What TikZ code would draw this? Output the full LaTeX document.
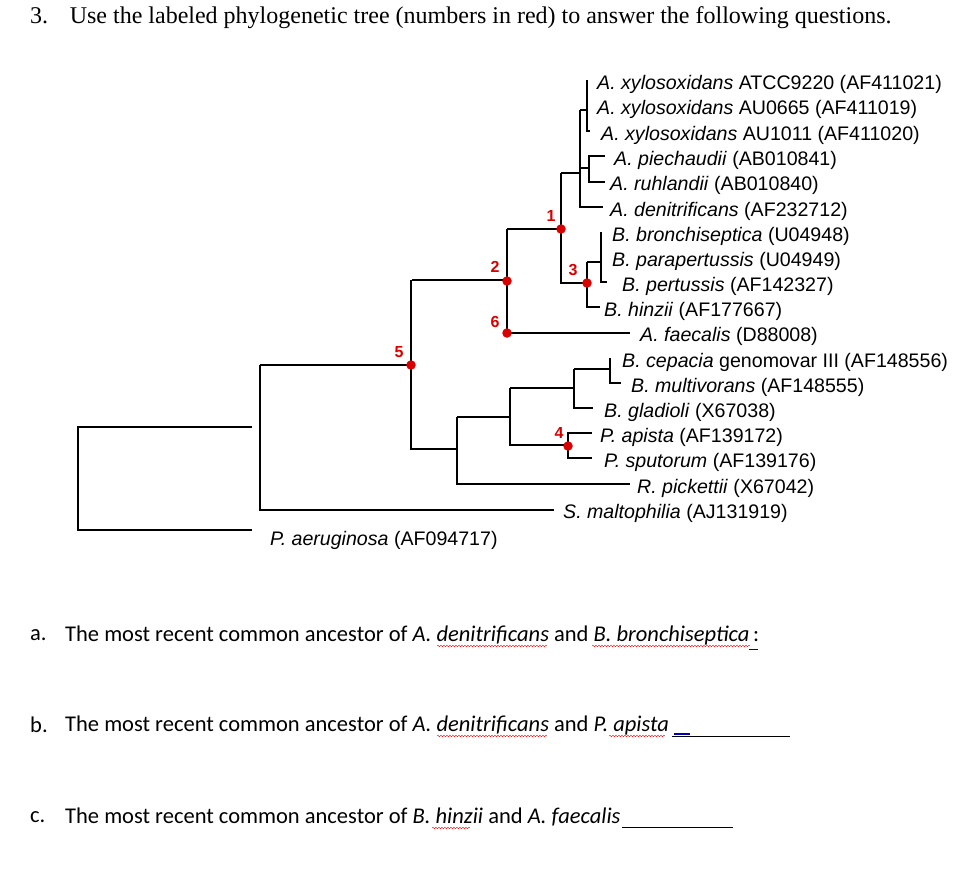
\documentclass[tikz,border=0pt]{standalone}
\usepackage{fontspec}
\setmainfont{Liberation Serif}
\newfontfamily\arial{Liberation Sans}
\newfontfamily\calib{Carlito}
\usetikzlibrary{decorations.pathmorphing}
\begin{document}
\begin{tikzpicture}[x=1pt,y=-1pt,
  br/.style={line width=1.1pt},
  leaf/.style={anchor=west,inner sep=0pt,font=\arial\fontsize{19.6}{22}\selectfont},
  num/.style={text=red!85!black,font=\arial\bfseries\fontsize{16}{18}\selectfont,inner sep=0pt},
  dot/.style={circle,fill=red!85!black,inner sep=0pt,minimum size=9.5pt},
  q/.style={anchor=west,inner sep=0pt,font=\calib\fontsize{22.5}{26}\selectfont},
  wavy/.style={red,decorate,decoration={snake,amplitude=0.8pt,segment length=3pt}}]
\useasboundingbox (0,0) rectangle (980,892);
\node[anchor=west,inner sep=0pt,font=\fontsize{24}{28}\selectfont] (title) at (30,18) {3.\hspace{0.9em}Use the labeled phylogenetic tree (numbers in red) to answer the following questions.};
% leaves
\node[leaf] (l1) at (597,84) {\textit{A. xylosoxidans} ATCC9220 (AF411021)};
\node[leaf] (l2) at (597,109) {\textit{A. xylosoxidans} AU0665 (AF411019)};
\node[leaf] (l3) at (601,135) {\textit{A. xylosoxidans} AU1011 (AF411020)};
\node[leaf] (l4) at (614,160) {\textit{A. piechaudii} (AB010841)};
\node[leaf] (l5) at (610,185) {\textit{A. ruhlandii} (AB010840)};
\node[leaf] (l6) at (610,211) {\textit{A. denitrificans} (AF232712)};
\node[leaf] (l7) at (612,236) {\textit{B. bronchiseptica} (U04948)};
\node[leaf] (l8) at (612,261) {\textit{B. parapertussis} (U04949)};
\node[leaf] (l9) at (622,286) {\textit{B. pertussis} (AF142327)};
\node[leaf] (l10) at (604,311) {\textit{B. hinzii} (AF177667)};
\node[leaf] (l11) at (640,336) {\textit{A. faecalis} (D88008)};
\node[leaf] (l12) at (622,362) {\textit{B. cepacia} genomovar III (AF148556)};
\node[leaf] (l13) at (631,387) {\textit{B. multivorans} (AF148555)};
\node[leaf] (l14) at (604,412) {\textit{B. gladioli} (X67038)};
\node[leaf] (l15) at (600,437) {\textit{P. apista} (AF139172)};
\node[leaf] (l16) at (604,462) {\textit{P. sputorum} (AF139176)};
\node[leaf] (l17) at (637,488) {\textit{R. pickettii} (X67042)};
\node[leaf] (l18) at (563,513) {\textit{S. maltophilia} (AJ131919)};
\node[leaf] (l19) at (270,540) {\textit{P. aeruginosa} (AF094717)};
% branches
\draw[br] (587,80) -- (587,131) -- (590,131);
\draw[br] (580,110) -- (587,110);
\draw[br] (580,110) -- (580,207) -- (603,207);
\draw[line width=2pt] (580,140) -- (580,168);
\draw[br] (605,156) -- (589,156) -- (589,182) -- (605,182);
\draw[br] (580,168) -- (589,168);
\draw[br] (561,173) -- (580,173);
\draw[br] (561,173) -- (561,283) -- (587,283);
\draw[br] (587,262) -- (587,307) -- (600,307);
\draw[br] (587,262) -- (601,262);
\draw[br] (601,232) -- (601,282) -- (607,282);
\draw[br] (507,229) -- (561,229);
\draw[br] (507,229) -- (507,333) -- (630,333);
\draw[br] (412,280) -- (507,280);
\draw[br] (260,365) -- (411,365);
\draw[br] (411,280) -- (411,449) -- (457,449);
\draw[br] (457,417) -- (457,484) -- (630,484);
\draw[br] (457,417) -- (510,417);
\draw[br] (510,388) -- (510,445) -- (568,445);
\draw[br] (592,433) -- (568,433) -- (568,458) -- (592,458);
\draw[br] (510,388) -- (574,388);
\draw[br] (574,369) -- (574,408) -- (593,408);
\draw[br] (574,369) -- (610,369);
\draw[br] (610,358) -- (610,383) -- (621,383);
\draw[br] (260,365) -- (260,510) -- (554,510);
\draw[br] (252,427) -- (78,427) -- (78,530) -- (252,530);
% numbered nodes
\node[dot] (n1) at (561,229) {}; \node[num] (t1) at (551,216) {1};
\node[dot] (n2) at (507,281) {}; \node[num] (t2) at (495,267) {2};
\node[dot] (n3) at (587,283) {}; \node[num] (t3) at (573,270) {3};
\node[dot] (n6) at (507,333) {}; \node[num] (t6) at (495,322) {6};
\node[dot] (n5) at (411,365) {}; \node[num] (t5) at (399,352) {5};
\node[dot] (n4) at (568,446) {}; \node[num] (t4) at (559,433) {4};
% questions
\node[q] (qa0) at (30,635) {a.};
\node[q] (qa) at (65,635) {The most recent common ancestor of \textit{A. denitrificans} and \textit{B. bronchiseptica}\,:};
\node[q] (qb0) at (30,725) {b.};
\node[q] (qb) at (65,725) {The most recent common ancestor of \textit{A. denitrificans} and \textit{P. apista}};
\node[q] (qc0) at (30,817) {c.};
\node[q] (qc) at (65,817) {The most recent common ancestor of \textit{B. hinzii} and \textit{A. faecalis}};
\draw[wavy] (437,646) -- (547,646);
\draw[wavy] (592,646) -- (750,646);
\draw[blue!70!black,line width=1pt] (749,649) -- (758,649);
\draw[wavy] (437,736) -- (547,736);
\draw[wavy] (609,736) -- (665,736);
\draw (672,736) -- (790,736);
\draw[blue!70!black,line width=2pt] (674,734) -- (690,734);
\draw[wavy] (432,828) -- (470,828);
\draw (622,827) -- (733,827);
\end{tikzpicture}
\end{document}
